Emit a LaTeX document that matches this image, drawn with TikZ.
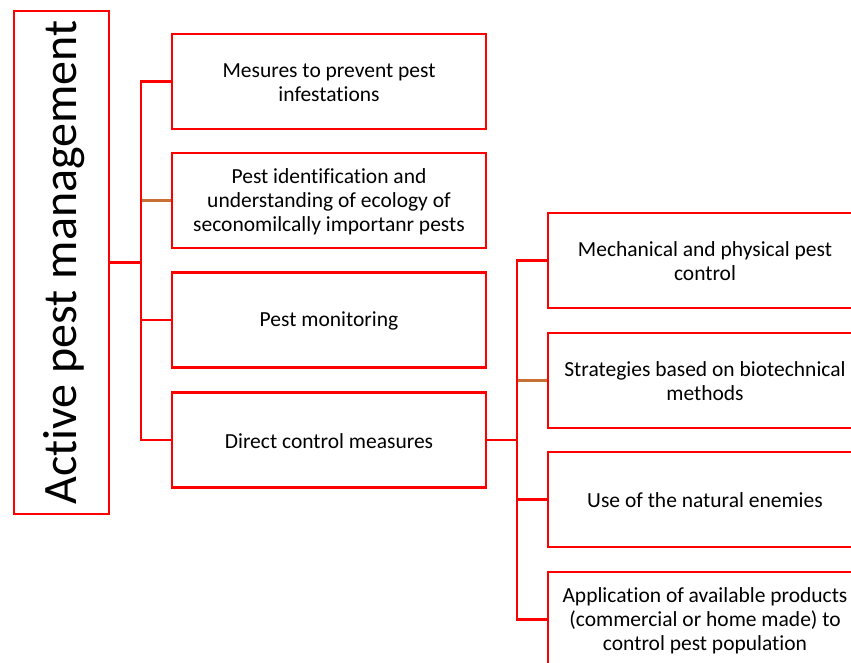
\documentclass[tikz,border=0pt]{standalone}
\usepackage{fontspec}
\setmainfont{Carlito}[Ligatures=NoCommon]
\definecolor{boxred}{RGB}{255,0,0}
\definecolor{brownorange}{RGB}{198,112,52}
\begin{document}
\begin{tikzpicture}[x=1pt,y=-1pt,
  box/.style={draw=boxred, line width=2.6pt, fill=white, minimum width=314pt, minimum height=95pt, inner sep=0pt},
  txt/.style={align=center, inner sep=0pt, yshift=-1pt, font=\fontsize{21.5}{24}\selectfont},
  conn/.style={draw=boxred, line width=2.3pt},
  oconn/.style={draw=brownorange, line width=2.3pt}]
\useasboundingbox (0,0) rectangle (851,662);
% root box
\node[draw=boxred, line width=2.6pt, minimum width=95pt, minimum height=503pt, inner sep=0pt] (L) at (61.5,262.5) {};
\node[rotate=90, anchor=base, inner sep=0pt, font=\fontsize{48}{58}\selectfont] (Lt) at (76,262.5) {Active pest management};
% column 1
\node[box] (a1) at (329,81.5) {};
\node[box] (a2) at (329,200.5) {};
\node[box] (a3) at (329,320) {};
\node[box] (a4) at (329,440) {};
\node[txt] (a1t) at (a1) {Mesures to prevent pest\\infestations};
\node[txt] (a2t) at (a2) {Pest identification and\\understanding of ecology of\\seconomilcally importanr pests};
\node[txt] (a3t) at (a3) {Pest monitoring};
\node[txt] (a4t) at (a4) {Direct control measures};
% column 2
\node[box] (c1) at (705,260.5) {};
\node[box] (c2) at (705,380.5) {};
\node[box] (c3) at (705,499.5) {};
\node[box] (c4) at (705,619.5) {};
\node[txt] (c1t) at (c1) {Mechanical and physical pest\\control};
\node[txt] (c2t) at (c2) {Strategies based on biotechnical\\methods};
\node[txt] (c3t) at (c3) {Use of the natural enemies};
\node[txt] (c4t) at (c4) {Application of available products\\(commercial or home made) to\\control pest population};
% connectors column 1
\coordinate (j1) at (141,262.5);
\draw[oconn] (a2.west) -- (a2.west -| j1);
\draw[conn] (L.east) -- (j1);
\draw[conn] (a1.west) -- (a1.west -| j1) -- (a4.west -| j1) -- (a4.west);
\draw[conn] (a3.west) -- (a3.west -| j1);
% connectors column 2
\coordinate (j2) at (517,440);
\draw[oconn] (c2.west) -- (c2.west -| j2);
\draw[conn] (a4.east) -- (j2);
\draw[conn] (c1.west) -- (c1.west -| j2) -- (c4.west -| j2) -- (c4.west);
\draw[conn] (c3.west) -- (c3.west -| j2);
\end{tikzpicture}
\end{document}
